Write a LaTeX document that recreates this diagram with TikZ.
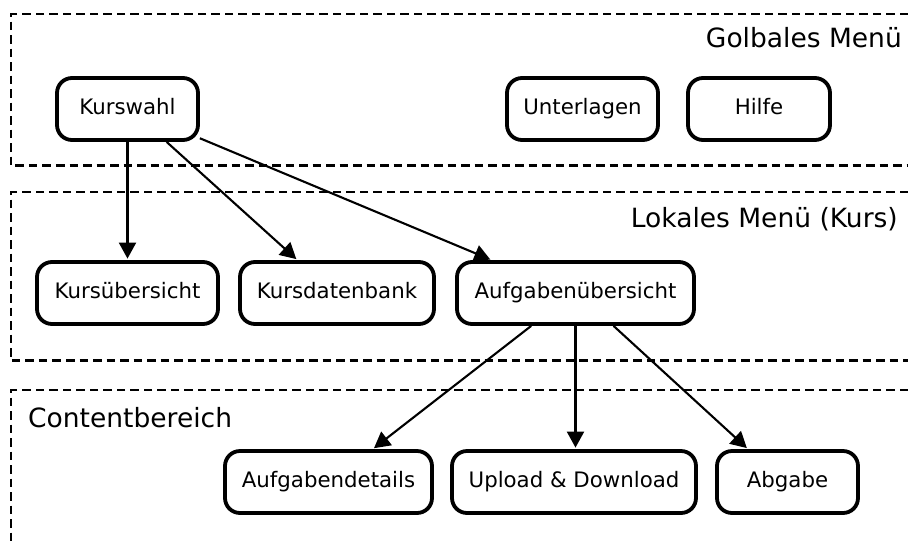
\documentclass[tikz,border=0pt]{standalone}
\usepackage{fontspec}
\setmainfont{DejaVu Sans}
\usetikzlibrary{arrows.meta,calc}

\tikzset{
  pagebox/.style={draw, line width=3.8pt, rounded corners=15pt, fill=white,
    minimum height=62pt, inner sep=0pt, text height=15.5pt, text depth=4.9pt,
    font=\fontsize{21.3}{25}\selectfont},
  zone/.style={draw, line width=2.1pt, dash pattern=on 8.5pt off 5pt},
  zonetitle/.style={inner sep=0pt, font=\fontsize{26.5}{31}\selectfont},
  link/.style={draw, line width=2.1pt, -{Triangle[length=16pt,width=17pt]}, shorten >=1.5pt}
}

\begin{document}
\begin{tikzpicture}[x=1pt, y=-1pt]
  \useasboundingbox (0,0) rectangle (908,542);

  % Menu zones (open towards the right edge)
  \draw[zone] (908,14) -- (11,14) -- (11,165.5) -- (908,165.5);
  \draw[zone] (908,192) -- (11,192) -- (11,360.5) -- (908,360.5);
  \draw[zone] (908,390) -- (11,390) -- (11,542);

  \node[zonetitle, anchor=base east] (tglobal) at (902,47) {Golbales Menü};
  \node[zonetitle, anchor=base east] (tlocal) at (898,227) {Lokales Menü (Kurs)};
  \node[zonetitle, anchor=base west] (tcontent) at (28,427) {Contentbereich};

  % Global menu
  \node[pagebox, minimum width=141pt] (kw) at (127.5,109) {Kurswahl};
  \node[pagebox, minimum width=151pt] (un) at (582.5,109) {Unterlagen};
  \node[pagebox, minimum width=142pt] (hi) at (759,109) {Hilfe};

  % Local menu
  \node[pagebox, minimum width=181pt] (ku) at (127.5,293) {Kursübersicht};
  \node[pagebox, minimum width=194pt] (kd) at (337,293) {Kursdatenbank};
  \node[pagebox, minimum width=237pt] (au) at (575.5,293) {Aufgabenübersicht};

  % Content area
  \node[pagebox, minimum width=207pt] (ad) at (328.5,482) {Aufgabendetails};
  \node[pagebox, minimum width=244pt] (ud) at (574,482) {Upload \& Download};
  \node[pagebox, minimum width=141pt] (ab) at (787.5,482) {Abgabe};

  % Navigation links
  \draw[link] (kw.south) -- (ku.north);
  \draw[link] ($(kw.south west)!0.77!(kw.south east)$) -- ($(kd.north west)!0.30!(kd.north east)$);
  \draw[link] (kw.-22) -- ($(au.north west)!0.152!(au.north east)$);
  \draw[link] ($(au.south west)!0.316!(au.south east)$) -- ($(ad.north west)!0.71!(ad.north east)$);
  \draw[link] (au.south) -- (au.south |- ud.north);
  \draw[link] ($(au.south west)!0.658!(au.south east)$) -- ($(ab.north west)!0.227!(ab.north east)$);
\end{tikzpicture}
\end{document}
